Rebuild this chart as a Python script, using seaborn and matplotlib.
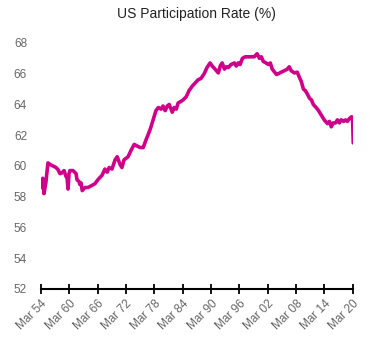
import numpy as np
import pandas as pd
import matplotlib
matplotlib.use("Agg")
import matplotlib.pyplot as plt
import seaborn as sns

# decimal years
years = [1954.17, 1954.4, 1954.55, 1954.8, 1955.2, 1955.65, 1956.1, 1956.7, 1957.35, 1957.8,
         1958.2, 1958.6, 1959.05, 1959.5, 1959.7, 1959.9, 1960.1, 1960.3, 1960.95, 1961.6,
         1961.8, 1962.2, 1962.4, 1962.65, 1962.9, 1963.5, 1964.1, 1964.75, 1965.6, 1966.2,
         1967.1, 1967.7, 1968.2, 1968.6, 1969.2, 1969.85, 1970.3, 1970.9, 1971.3, 1971.75,
         1972.6, 1973.2, 1973.9, 1974.5, 1975.15, 1975.8, 1976.4, 1976.8, 1977.3, 1977.9,
         1978.5, 1979.0, 1979.6, 1980.0, 1980.45, 1980.9, 1981.3, 1981.7, 1981.95, 1982.35,
         1982.8, 1983.2, 1983.8, 1984.25, 1984.9, 1985.5, 1986.2, 1986.8, 1987.4, 1988.05,
         1988.7, 1989.3, 1989.95, 1990.4, 1991.0, 1991.7, 1992.1, 1992.5, 1993.0, 1993.4,
         1993.8, 1994.4, 1995.1, 1995.5, 1995.9, 1996.3, 1996.8, 1997.4, 1998.0, 1998.7,
         1999.3, 1999.9, 2000.4, 2000.8, 2001.2, 2001.8, 2002.3, 2002.7, 2003.1, 2003.6,
         2004.0, 2004.4, 2005.0, 2005.7, 2006.3, 2006.7, 2007.1, 2007.8, 2008.4, 2008.8,
         2009.25, 2009.7, 2010.1, 2010.5, 2011.0, 2011.4, 2011.8, 2012.4, 2012.9, 2013.3,
         2013.7, 2014.1, 2014.8, 2015.2, 2015.6, 2016.0, 2016.5, 2016.9, 2017.3, 2017.7,
         2018.2, 2018.6, 2019.0, 2019.5, 2019.9, 2020.1, 2020.25]
rate = [59.1, 58.6, 59.2, 58.2, 58.9, 60.2, 60.1, 60.0, 59.9, 59.75,
        59.5, 59.55, 59.7, 59.3, 59.2, 58.5, 59.5, 59.7, 59.7, 59.5,
        59.1, 59.0, 58.8, 58.9, 58.4, 58.6, 58.6, 58.7, 58.85, 59.1,
        59.4, 59.8, 59.6, 59.9, 59.8, 60.4, 60.6, 60.1, 59.9, 60.4,
        60.6, 61.0, 61.4, 61.3, 61.2, 61.2, 61.7, 62.0, 62.4, 63.0,
        63.6, 63.8, 63.7, 63.9, 63.6, 63.9, 64.0, 63.7, 63.5, 63.8,
        63.7, 64.1, 64.2, 64.3, 64.5, 64.9, 65.2, 65.4, 65.6, 65.7,
        66.0, 66.4, 66.7, 66.5, 66.3, 66.05, 66.5, 66.7, 66.3, 66.45,
        66.4, 66.6, 66.7, 66.5, 66.7, 66.6, 67.0, 67.1, 67.1, 67.1,
        67.1, 67.3, 67.0, 67.1, 66.8, 66.7, 66.6, 66.7, 66.3, 66.1,
        65.95, 66.0, 66.1, 66.2, 66.3, 66.45, 66.2, 66.05, 66.1, 65.8,
        65.5, 65.0, 64.9, 64.7, 64.4, 64.3, 64.0, 63.8, 63.6, 63.4,
        63.2, 63.0, 62.75, 62.9, 62.55, 62.8, 62.8, 63.0, 62.8, 63.0,
        62.9, 63.0, 62.9, 63.1, 63.2, 63.1, 61.5]

tick_years = [1954, 1960, 1966, 1972, 1978, 1984, 1990, 1996, 2002, 2008, 2014, 2020]
tick_labels = ["Mar 54", "Mar 60", "Mar 66", "Mar 72", "Mar 78", "Mar 84",
               "Mar 90", "Mar 96", "Mar 02", "Mar 08", "Mar 14", "Mar 20"]
y_ticks = [52, 54, 56, 58, 60, 62, 64, 66, 68]


def to_date(y):
    yr = int(np.floor(y))
    frac = y - yr
    start = pd.Timestamp(year=yr, month=1, day=1)
    end = pd.Timestamp(year=yr + 1, month=1, day=1)
    return start + (end - start) * frac


df = pd.DataFrame({"date": [to_date(y) for y in years], "rate": rate})

sns.set_theme(style="white")
plt.rcParams["font.family"] = ["Liberation Sans", "DejaVu Sans"]

fig = plt.figure(figsize=(3.79, 3.41), dpi=100)
ax = fig.add_axes([0.108, 0.1525, 0.823, 0.7215])

sns.lineplot(data=df, x="date", y="rate", ax=ax, color="#D1008A", linewidth=2.6)

ticks = [pd.Timestamp(year=y, month=3, day=1) for y in tick_years]
ax.set_xticks(ticks)
ax.set_xticklabels(tick_labels, rotation=45, ha="right", rotation_mode="anchor",
                   fontsize=8.5, color="#666666")
ax.set_xlim(ticks[0], ticks[-1])
ax.set_ylim(52, 68)
ax.set_yticks(y_ticks)
ax.set_yticklabels([str(v) for v in y_ticks], fontsize=8.5, color="#666666")

ax.set_xlabel("")
ax.set_ylabel("")
for s in ["top", "right", "left"]:
    ax.spines[s].set_visible(False)
ax.spines["bottom"].set_color("black")
ax.spines["bottom"].set_linewidth(1.5)
ax.tick_params(axis="x", which="major", direction="inout", length=7, width=1.3,
               color="black", bottom=True, pad=3)
ax.tick_params(axis="y", left=False, length=0, pad=10)
ax.set_title("US Participation Rate (%)", fontsize=10, color="#222222", pad=18)

fig.savefig("out.png", dpi=100)
